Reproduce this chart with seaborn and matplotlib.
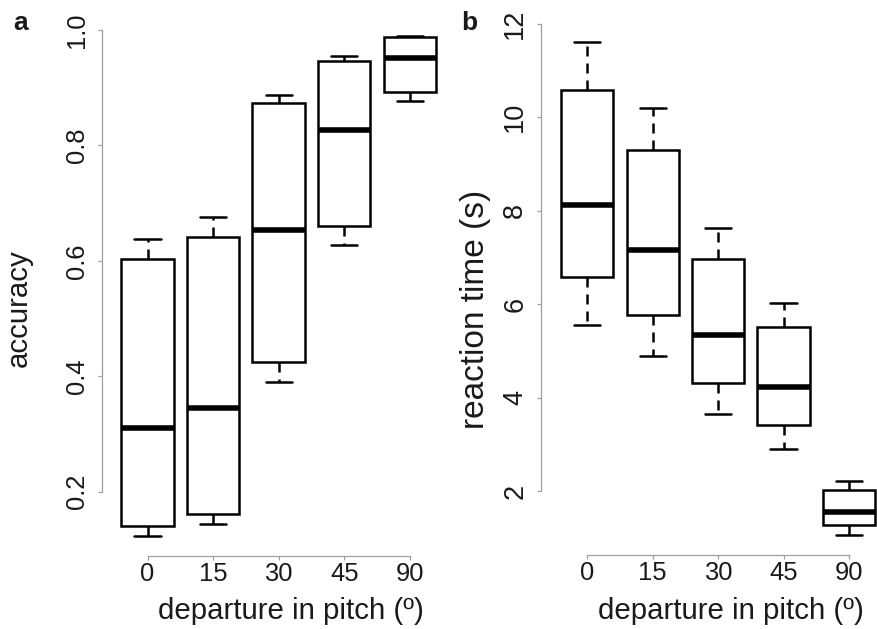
import matplotlib
matplotlib.use("Agg")
import matplotlib.pyplot as plt
import seaborn as sns
import pandas as pd

# ---- data (five-number summaries: min, Q1, median, Q3, max)
pitch_labels = ["0", "15", "30", "45", "90"]

acc_0 = [0.124, 0.141, 0.311, 0.603, 0.638]
acc_15 = [0.144, 0.162, 0.345, 0.641, 0.676]
acc_30 = [0.390, 0.425, 0.653, 0.874, 0.888]
acc_45 = [0.628, 0.661, 0.826, 0.947, 0.955]
acc_90 = [0.877, 0.893, 0.952, 0.988, 0.989]

rt_0 = [5.56, 6.58, 8.13, 10.59, 11.61]
rt_15 = [4.89, 5.77, 7.15, 9.31, 10.20]
rt_30 = [3.65, 4.31, 5.34, 6.97, 7.64]
rt_45 = [2.89, 3.42, 4.23, 5.51, 6.02]
rt_90 = [1.06, 1.27, 1.54, 2.02, 2.21]

acc_ticks = [0.2, 0.4, 0.6, 0.8, 1.0]
acc_ticklabels = ["0.2", "0.4", "0.6", "0.8", "1.0"]
rt_ticks = [2, 4, 6, 8, 10, 12]
rt_ticklabels = ["2", "4", "6", "8", "10", "12"]

acc_groups = [acc_0, acc_15, acc_30, acc_45, acc_90]
rt_groups = [rt_0, rt_15, rt_30, rt_45, rt_90]

df_acc = pd.DataFrame({
    "pitch": [lab for lab, g in zip(pitch_labels, acc_groups) for _ in g],
    "accuracy": [v for g in acc_groups for v in g],
})
df_rt = pd.DataFrame({
    "pitch": [lab for lab, g in zip(pitch_labels, rt_groups) for _ in g],
    "rt": [v for g in rt_groups for v in g],
})

sns.set_style("white")
plt.rcParams["font.family"] = ["Liberation Sans", "DejaVu Sans"]

W, H = 878, 629
fig = plt.figure(figsize=(W / 100, H / 100), dpi=100)

def px_axes(left, top, right, bottom):
    return fig.add_axes([left / W, 1 - bottom / H, (right - left) / W, (bottom - top) / H])

ax_a = px_axes(101.7, 16.4, 455.6, 555.5)
ax_b = px_axes(541.5, 22.4, 894.8, 554.6)

LW = 1.8
box_kw = dict(
    order=pitch_labels, whis=(0, 100), width=0.8, gap=0,
    color="white", linecolor="black", linewidth=LW, showfliers=False,
    medianprops=dict(linewidth=4.0, color="black", solid_capstyle="butt"),
    whiskerprops=dict(linestyle=(0, (4, 2.8)), linewidth=LW, color="black"),
    capprops=dict(linewidth=LW, color="black"),
    boxprops=dict(linewidth=LW, edgecolor="black", facecolor="white"),
)

sns.boxplot(data=df_acc, x="pitch", y="accuracy", ax=ax_a, **box_kw)
sns.boxplot(data=df_rt, x="pitch", y="rt", ax=ax_b, **box_kw)

spine_col = "#a0a0a0"
txt_col = "#1a1a1a"
TICK_FS = 18.4
LAB_FS = 21.2

for ax, ticks, tlabels, ylim, yfs in [
    (ax_a, acc_ticks, acc_ticklabels, (0.0894, 1.0236), TICK_FS),
    (ax_b, rt_ticks, rt_ticklabels, (0.638, 12.032), 19.5),
]:
    ax.set_xlim(-0.7, 4.7)
    ax.set_ylim(*ylim)
    ax.set_yticks(ticks)
    ax.set_yticklabels(tlabels)
    ax.set_xticks(range(len(pitch_labels)))
    ax.set_xticklabels(pitch_labels)
    for s in ["top", "right"]:
        ax.spines[s].set_visible(False)
    ax.spines["left"].set_bounds(ticks[0], ticks[-1])
    ax.spines["bottom"].set_bounds(0, len(pitch_labels) - 1)
    for s in ["left", "bottom"]:
        ax.spines[s].set_color(spine_col)
        ax.spines[s].set_linewidth(0.9)
    ax.tick_params(axis="both", which="major", length=3, width=0.9, color=spine_col,
                   labelcolor=txt_col, direction="out", left=True, bottom=True)
    ax.tick_params(axis="x", pad=1.5, labelsize=TICK_FS)
    ax.tick_params(axis="y", pad=6.5, labelrotation=90, labelsize=yfs)
    for lab in ax.get_yticklabels():
        lab.set_verticalalignment("center")
    ax.set_xlabel("departure in pitch (º)", fontsize=LAB_FS, color=txt_col)
    ax.patch.set_alpha(0)

ax_a.set_ylabel("accuracy", fontsize=LAB_FS, color=txt_col)
ax_b.set_ylabel("reaction time (s)", fontsize=24, color=txt_col)

ax_a.xaxis.set_label_coords(0.534, -0.0762)
ax_b.xaxis.set_label_coords(0.536, -0.0789)
ax_a.yaxis.set_label_coords(-0.194, 0.459)
ax_b.yaxis.set_label_coords(-0.142, 0.4615)

fig.text(13 / W, 1 - 30 / H, "a", fontsize=19, fontweight="bold", color=txt_col,
         ha="left", va="baseline")
fig.text(461 / W, 1 - 30 / H, "b", fontsize=19, fontweight="bold", color=txt_col,
         ha="left", va="baseline")

fig.savefig("out.png", dpi=100, facecolor="white")
